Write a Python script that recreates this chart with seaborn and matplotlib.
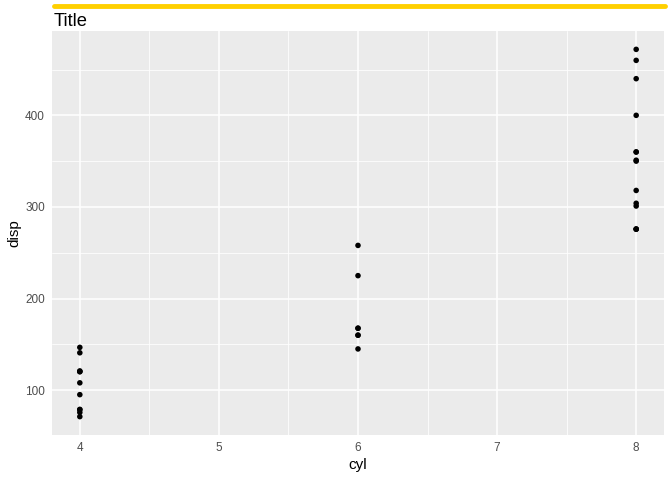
import numpy as np
import pandas as pd
import matplotlib
matplotlib.use("Agg")
import matplotlib.pyplot as plt
from matplotlib.lines import Line2D
from matplotlib.ticker import MultipleLocator
import seaborn as sns

# mtcars: cyl vs disp
cyl = [6, 6, 4, 6, 8, 6, 8, 4, 4, 6, 6, 8, 8, 8, 8, 8, 8, 4, 4, 4, 4, 8, 8, 8, 8, 4, 4, 4, 8, 6, 8, 4]
disp = [160, 160, 108, 258, 360, 225, 360, 146.7, 140.8, 167.6, 167.6, 275.8, 275.8, 275.8,
        472, 460, 440, 78.7, 75.7, 71.1, 120.1, 318, 304, 350, 400, 79, 120.3, 95.1, 351, 145, 301, 121]
x_ticks = [4, 5, 6, 7, 8]
y_ticks = [100, 200, 300, 400]

df = pd.DataFrame({"cyl": cyl, "disp": disp})

sns.set_style("white")
plt.rcParams["font.family"] = ["Liberation Sans", "DejaVu Sans"]
plt.rcParams["text.color"] = "black"
plt.rcParams["axes.labelcolor"] = "black"

fig = plt.figure(figsize=(6.72, 4.8), dpi=100)
ax = fig.add_axes([52 / 672, 45 / 480, 612 / 672, 404 / 480])
ax.set_facecolor("#EBEBEB")

sns.scatterplot(data=df, x="cyl", y="disp", color="black", s=16, edgecolor="none", ax=ax, zorder=3)

ax.set_xlim(3.8, 8.2)
ax.set_ylim(51.05, 492.05)
ax.set_xticks(x_ticks)
ax.set_yticks(y_ticks)
ax.xaxis.set_minor_locator(MultipleLocator(0.5))
ax.yaxis.set_minor_locator(MultipleLocator(50))
ax.grid(which="major", color="white", linewidth=1.1, zorder=0)
ax.grid(which="minor", color="white", linewidth=0.55, zorder=0)
ax.set_axisbelow(True)
for s in ax.spines.values():
    s.set_visible(False)
ax.tick_params(which="major", length=3, width=0.8, color="#333333", labelcolor="#4D4D4D", labelsize=8.5, pad=2)
ax.tick_params(which="minor", length=0)

ax.set_xlabel("cyl", fontsize=11, labelpad=3)
ax.set_ylabel("disp", fontsize=11, labelpad=3)

fig.text(54 / 672, 1 - 21 / 480, "Title", fontsize=13.2, ha="left", va="center", color="black")
fig.add_artist(Line2D([54 / 672, 665 / 672], [1 - 6 / 480, 1 - 6 / 480], color="#FFD000",
                      linewidth=3.5, solid_capstyle="round", transform=fig.transFigure))

fig.savefig("out.png", dpi=100, facecolor="white")
